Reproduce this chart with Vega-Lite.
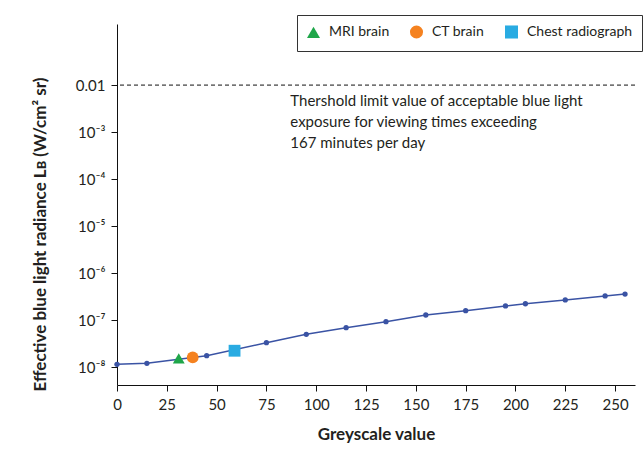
{
  "$schema": "https://vega.github.io/schema/vega-lite/v6.json",
  "width": 518,
  "height": 361,
  "autosize": {"type": "none"},
  "padding": {"left": 117, "top": 24, "right": 9, "bottom": 80},
  "background": "white",
  "config": {
    "font": "Lato",
    "view": {"stroke": null},
    "axis": {"domainColor": "#111", "tickColor": "#111", "labelColor": "#231f20", "titleColor": "#231f20", "grid": false, "labelFont": "Lato", "titleFont": "Lato"}
  },
  "datasets": {
    "curve": [
      {"greyscale": 0, "radiance": 1.14e-8},
      {"greyscale": 15, "radiance": 1.2e-8},
      {"greyscale": 45, "radiance": 1.74e-8},
      {"greyscale": 75, "radiance": 3.29e-8},
      {"greyscale": 95, "radiance": 4.97e-8},
      {"greyscale": 115, "radiance": 6.86e-8},
      {"greyscale": 135, "radiance": 9.2e-8},
      {"greyscale": 155, "radiance": 1.28e-7},
      {"greyscale": 175, "radiance": 1.58e-7},
      {"greyscale": 195, "radiance": 1.99e-7},
      {"greyscale": 205, "radiance": 2.22e-7},
      {"greyscale": 225, "radiance": 2.67e-7},
      {"greyscale": 245, "radiance": 3.25e-7},
      {"greyscale": 255, "radiance": 3.57e-7}
    ],
    "images": [
      {"type": "MRI brain", "greyscale": 31, "radiance": 1.53e-8},
      {"type": "CT brain", "greyscale": 38, "radiance": 1.6e-8},
      {"type": "Chest radiograph", "greyscale": 59, "radiance": 2.22e-8}
    ],
    "threshold": [
      {"radiance": 0.01, "greyscale": 87, "labelY": 0.00645, "label": ["Thershold limit value of acceptable blue light", "exposure for viewing times exceeding", "167 minutes per day"]}
    ]
  },
  "layer": [
    {
      "data": {"name": "threshold"},
      "mark": {"type": "rule", "color": "#111", "strokeDash": [4, 3], "strokeWidth": 1},
      "encoding": {
        "y": {"field": "radiance", "type": "quantitative", "scale": {"type": "log", "domain": [4.14e-9, 0.1995], "nice": false}}
      }
    },
    {
      "data": {"name": "threshold"},
      "mark": {"type": "text", "align": "left", "baseline": "top", "fontSize": 15, "lineHeight": 21, "color": "#231f20", "font": "Lato"},
      "encoding": {
        "x": {"field": "greyscale", "type": "quantitative"},
        "y": {"field": "labelY", "type": "quantitative"},
        "text": {"field": "label"}
      }
    },
    {
      "data": {"name": "curve"},
      "mark": {"type": "line", "color": "#3a53a4", "strokeWidth": 1.5, "point": {"filled": true, "size": 28, "color": "#3a53a4"}},
      "encoding": {
        "x": {"field": "greyscale", "type": "quantitative", "scale": {"domain": [0, 260], "nice": false},
          "axis": {"values": [0, 25, 50, 75, 100, 125, 150, 175, 200, 225, 250], "title": "Greyscale value", "labelFontSize": 15, "titleFontSize": 17, "titleFontWeight": "bold", "tickSize": 6, "labelPadding": 6, "titlePadding": 14, "labelFlush": false}},
        "y": {"field": "radiance", "type": "quantitative", "scale": {"type": "log", "domain": [4.14e-9, 0.1995], "nice": false},
          "axis": {"values": [1e-8, 1e-7, 1e-6, 1e-5, 1e-4, 1e-3, 0.01], "title": "Effective blue light radiance Lʙ (W/cm² sr)", "labelFontSize": 15, "titleFontSize": 17, "titleFontWeight": "bold", "tickSize": 6, "labelPadding": 6,
            "labelExpr": "datum.value > 0.005 ? '0.01' : datum.value > 5e-4 ? '10⁻³' : datum.value > 5e-5 ? '10⁻⁴' : datum.value > 5e-6 ? '10⁻⁵' : datum.value > 5e-7 ? '10⁻⁶' : datum.value > 5e-8 ? '10⁻⁷' : '10⁻⁸'",
            "titleX": -77, "titleY": 210, "titleAngle": -90, "titleAlign": "center", "titleBaseline": "middle"}}
      }
    },
    {
      "data": {"name": "images"},
      "mark": {"type": "point", "filled": true, "opacity": 1, "size": 140},
      "encoding": {
        "x": {"field": "greyscale", "type": "quantitative"},
        "y": {"field": "radiance", "type": "quantitative"},
        "color": {"field": "type", "type": "nominal", "scale": {"domain": ["MRI brain", "CT brain", "Chest radiograph"], "range": ["#1fa64a", "#f58220", "#29abe2"]},
          "legend": {"title": null, "orient": "none", "legendX": 180, "legendY": -9, "direction": "horizontal", "strokeColor": "#333", "padding": 9, "labelFontSize": 14, "labelFont": "Lato", "labelColor": "#231f20", "symbolSize": 170, "columnPadding": 16, "labelOffset": 8, "symbolOpacity": 1}},
        "shape": {"field": "type", "type": "nominal", "scale": {"domain": ["MRI brain", "CT brain", "Chest radiograph"], "range": ["triangle-up", "circle", "square"]}}
      }
    }
  ]
}
